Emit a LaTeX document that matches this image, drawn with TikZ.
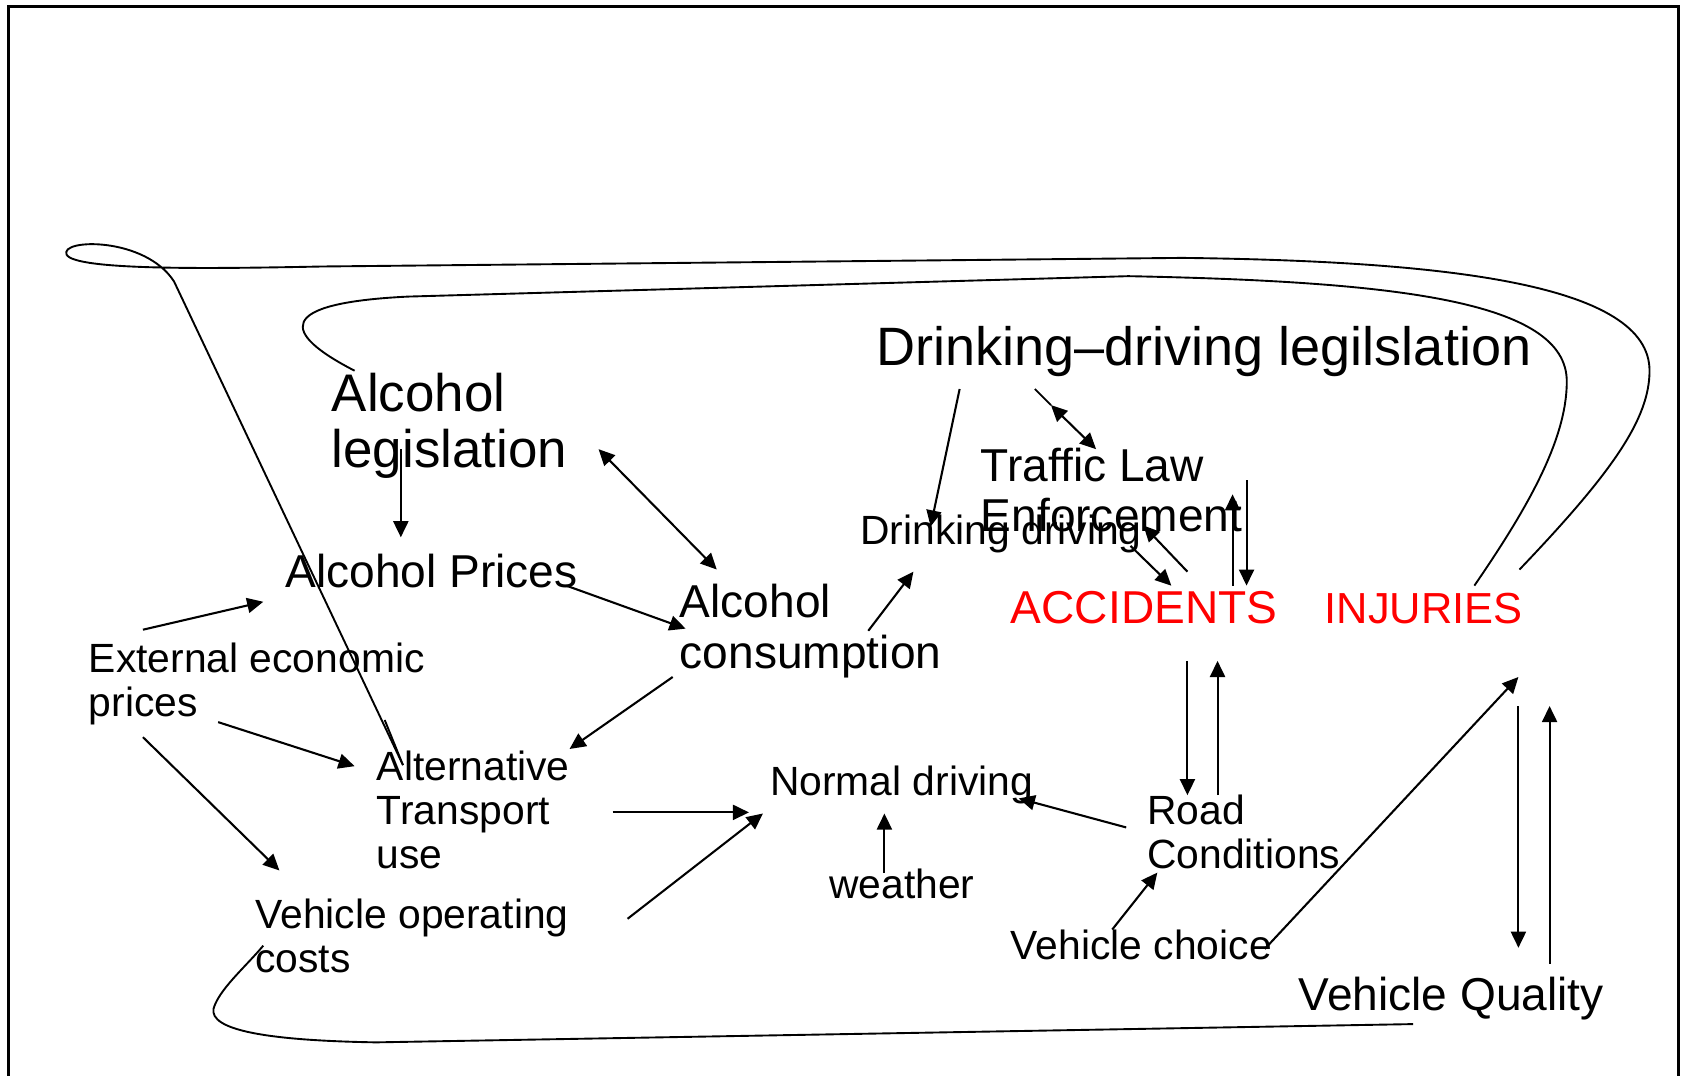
\documentclass[tikz,border=0pt]{standalone}
\usepackage{fontspec}
\setmainfont{Liberation Sans}
\usetikzlibrary{arrows.meta}
\tikzset{
  txt/.style={inner sep=0pt, anchor=base west, align=left},
  txtS/.style={txt, font=\fontsize{10.8}{11.6}\selectfont},
  txtM/.style={txt, font=\fontsize{12.2}{13.4}\selectfont},
  txtL/.style={txt, font=\fontsize{14}{14.8}\selectfont},
  hot/.style={txtM, text=red},
  arr/.style={-{Triangle[length=1.5mm,width=1.4mm]}, line width=0.55pt},
  dbl/.style={{Triangle[length=1.5mm,width=1.4mm]}-{Triangle[length=1.5mm,width=1.4mm]}, line width=0.55pt},
  link/.style={line width=0.5pt},
}
\begin{document}
\begin{tikzpicture}[x=0.01cm, y=-0.01cm]
        \useasboundingbox (0,0) rectangle (1568,1001);
        % frame
        \draw[line width=1pt] (8,1001) -- (8,6) -- (1562,6) -- (1562,1001);

        % factors (multi-line ones sit on their last line)
        \node[txtL, font=\fontsize{14.3}{15}\selectfont] (dlaw) at (815,340) {Drinking–driving legilslation};
        \node[txtL] (alclaw) at (308,435) {Alcohol\\legislation};
        \node[txtM] (alcprice) at (265,547) {Alcohol Prices};
        \node[txtS] (extprice) at (82,667) {External economic\\prices};
        \node[txtM] (alccons) at (632,622) {Alcohol\\consumption};
        \node[txtS] (drdrive) at (800,507) {Drinking driving};
        \node[txtM] (tlaw) at (912,495) {Traffic Law\\Enforcement};
        \node[hot] (acc) at (940,580) {ACCIDENTS};
        \node[hot, font=\fontsize{11.5}{12}\selectfont] (inj) at (1232,580) {INJURIES};
        \node[txtS] (alttrans) at (350,808) {Alternative\\Transport\\use};
        \node[txtS] (normdrive) at (716,740) {Normal driving};
        \node[txtS] (weather) at (771,836) {weather};
        \node[txtS] (road) at (1067,808) {Road\\Conditions};
        \node[txtS] (vcost) at (237,905) {Vehicle operating\\costs};
        \node[txtS] (vchoice) at (940,893) {Vehicle choice};
        \node[txtM] (vquality) at (1208,940) {Vehicle Quality};

        % free ends of the links
        \coordinate (a1) at (373,418);  \coordinate (a2) at (373,500);
        \coordinate (b1) at (557,418);  \coordinate (b2) at (667,530);
        \coordinate (c1) at (527,545);  \coordinate (c2) at (638,585);
        \coordinate (d1) at (133,586);  \coordinate (d2) at (245,560);
        \coordinate (e1) at (203,672);  \coordinate (e2) at (330,713);
        \coordinate (f1) at (133,686);  \coordinate (f2) at (260,810);
        \coordinate (g1) at (626,630);  \coordinate (g2) at (530,697);
        \coordinate (h1) at (808,587);  \coordinate (h2) at (850,532);
        \coordinate (i1) at (893,362);  \coordinate (i2) at (866,490);
        \coordinate (j0) at (963,362);  \coordinate (j1) at (978,377);  \coordinate (j2) at (1020,418);
        \coordinate (k1) at (1052,508); \coordinate (k2) at (1090,545);
        \coordinate (l1) at (1105,532); \coordinate (l2) at (1064,489);
        \coordinate (m1) at (1147,545); \coordinate (m2) at (1147,460);
        \coordinate (n1) at (1160,447); \coordinate (n2) at (1160,545);
        \coordinate (o1) at (1105,615); \coordinate (o2) at (1105,740);
        \coordinate (p1) at (1133,740); \coordinate (p2) at (1133,615);
        \coordinate (q1) at (1048,770); \coordinate (q2) at (948,743);
        \coordinate (r1) at (823,812);  \coordinate (r2) at (823,757);
        \coordinate (s1) at (570,756);  \coordinate (s2) at (697,756);
        \coordinate (t1) at (584,855);  \coordinate (t2) at (710,757);
        \coordinate (u1) at (1035,865); \coordinate (u2) at (1077,812);
        \coordinate (v1) at (1177,883); \coordinate (v2) at (1413,630);
        \coordinate (w1) at (1413,657); \coordinate (w2) at (1413,882);
        \coordinate (z1) at (1442,897); \coordinate (z2) at (1442,657);

        % arrows
        \draw[arr] (a1) -- (a2);
        \draw[dbl] (b1) -- (b2);
        \draw[arr] (c1) -- (c2);
        \draw[arr] (d1) -- (d2);
        \draw[arr] (e1) -- (e2);
        \draw[arr] (f1) -- (f2);
        \draw[arr] (g1) -- (g2);
        \draw[arr] (h1) -- (h2);
        \draw[arr] (i1) -- (i2);
        \draw[link] (j0) -- (j1);
        \draw[dbl] (j1) -- (j2);
        \draw[arr] (k1) -- (k2);
        \draw[arr] (l1) -- (l2);
        \draw[arr] (m1) -- (m2);
        \draw[arr] (n1) -- (n2);
        \draw[arr] (o1) -- (o2);
        \draw[arr] (p1) -- (p2);
        \draw[arr] (q1) -- (q2);
        \draw[arr] (r1) -- (r2);
        \draw[arr] (s1) -- (s2);
        \draw[arr] (t1) -- (t2);
        \draw[arr] (u1) -- (u2);
        \draw[arr] (v1) -- (v2);
        \draw[arr] (w1) -- (w2);
        \draw[arr] (z1) -- (z2);

        % long loops
        \draw[link] (1414,530) .. controls (1500,440) and (1535,390) .. (1535,345)
            .. controls (1535,265) and (1350,243) .. (1100,240) -- (300,248)
            .. controls (200,250) and (70,252) .. (62,237)
            .. controls (55,222) and (135,220) .. (162,262) -- (375,712);
        \draw[link] (358,670) -- (375,712);
        \draw[link] (1372,545) .. controls (1420,475) and (1458,410) .. (1458,355)
            .. controls (1458,280) and (1300,262) .. (1050,257) -- (380,276)
            .. controls (255,282) and (262,310) .. (330,345);
        \draw[link] (1315,953) -- (350,970)
            .. controls (230,968) and (190,955) .. (200,935)
            .. controls (207,918) and (230,898) .. (245,880);
\end{tikzpicture}
\end{document}
